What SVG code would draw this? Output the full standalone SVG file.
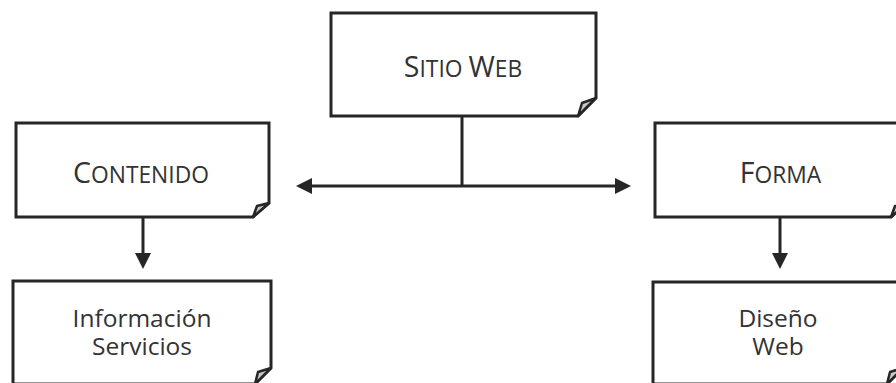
<svg xmlns="http://www.w3.org/2000/svg" width="896" height="383" viewBox="0 0 896 383">
  <style>
    .box { fill: #ffffff; stroke: #262626; stroke-width: 3; stroke-linejoin: miter; }
    .fold { fill: #c8c8c8; stroke: #262626; stroke-width: 2.5; stroke-linejoin: round; }
    .label { font-family: "Open Sans", "Noto Sans", "DejaVu Sans", sans-serif; fill: #333333; text-anchor: middle; }
    .cap { font-size: 28.5px; }
    .sc { font-size: 22.8px; }
    .body { font-size: 24.5px; }
    .link { fill: none; stroke: #262626; stroke-width: 3; }
  </style>
  <defs>
    <marker id="arrow" viewBox="0 -8 16 16" refX="0" refY="0" markerWidth="16" markerHeight="16" markerUnits="userSpaceOnUse" orient="auto-start-reverse">
      <path d="M0,-8 L16,0 L0,8 Z" fill="#262626"/>
    </marker>
  </defs>

  <!-- connectors -->
  <g id="connectors">
    <path class="link" d="M462,116 V186"/>
    <path class="link" d="M312,186 H615" marker-start="url(#arrow)" marker-end="url(#arrow)"/>
    <path class="link" d="M143,217 V253" marker-end="url(#arrow)"/>
    <path class="link" d="M780,217 V253" marker-end="url(#arrow)"/>
  </g>

  <!-- root node -->
  <g id="sitio-web">
    <path class="box" d="M331,13 H596 V98 L578,116 H331 Z"/>
    <path class="fold" d="M578,116 L582,103 L596,98 Z"/>
    <text class="label" x="463" y="77"><tspan class="cap">S</tspan><tspan class="sc">ITIO </tspan><tspan class="cap">W</tspan><tspan class="sc">EB</tspan></text>
  </g>

  <g id="contenido">
    <path class="box" d="M16,123 H269 V203 L253,217 H16 Z"/>
    <path class="fold" d="M253,217 L257,206 L269,203 Z"/>
    <text class="label" x="141" y="183"><tspan class="cap">C</tspan><tspan class="sc">ONTENIDO</tspan></text>
  </g>

  <g id="forma">
    <path class="box" d="M655,123 H907 V203 L891,217 H655 Z"/>
    <path class="fold" d="M891,217 L895,206 L907,203 Z"/>
    <text class="label" x="780.5" y="183"><tspan class="cap">F</tspan><tspan class="sc">ORMA</tspan></text>
  </g>

  <g id="informacion-servicios">
    <path class="box" d="M13,281 H271 V368 L255,384 H13 Z"/>
    <path class="fold" d="M255,384 L258,372 L271,368 Z"/>
    <text class="label body" x="142" y="327">Información<tspan x="142" dy="28">Servicios</tspan></text>
  </g>

  <g id="diseno-web">
    <path class="box" d="M653,282 H903 V368 L887,384 H653 Z"/>
    <path class="fold" d="M887,384 L890,372 L903,368 Z"/>
    <text class="label body" x="778" y="327">Diseño<tspan x="778" dy="28">Web</tspan></text>
  </g>
</svg>
